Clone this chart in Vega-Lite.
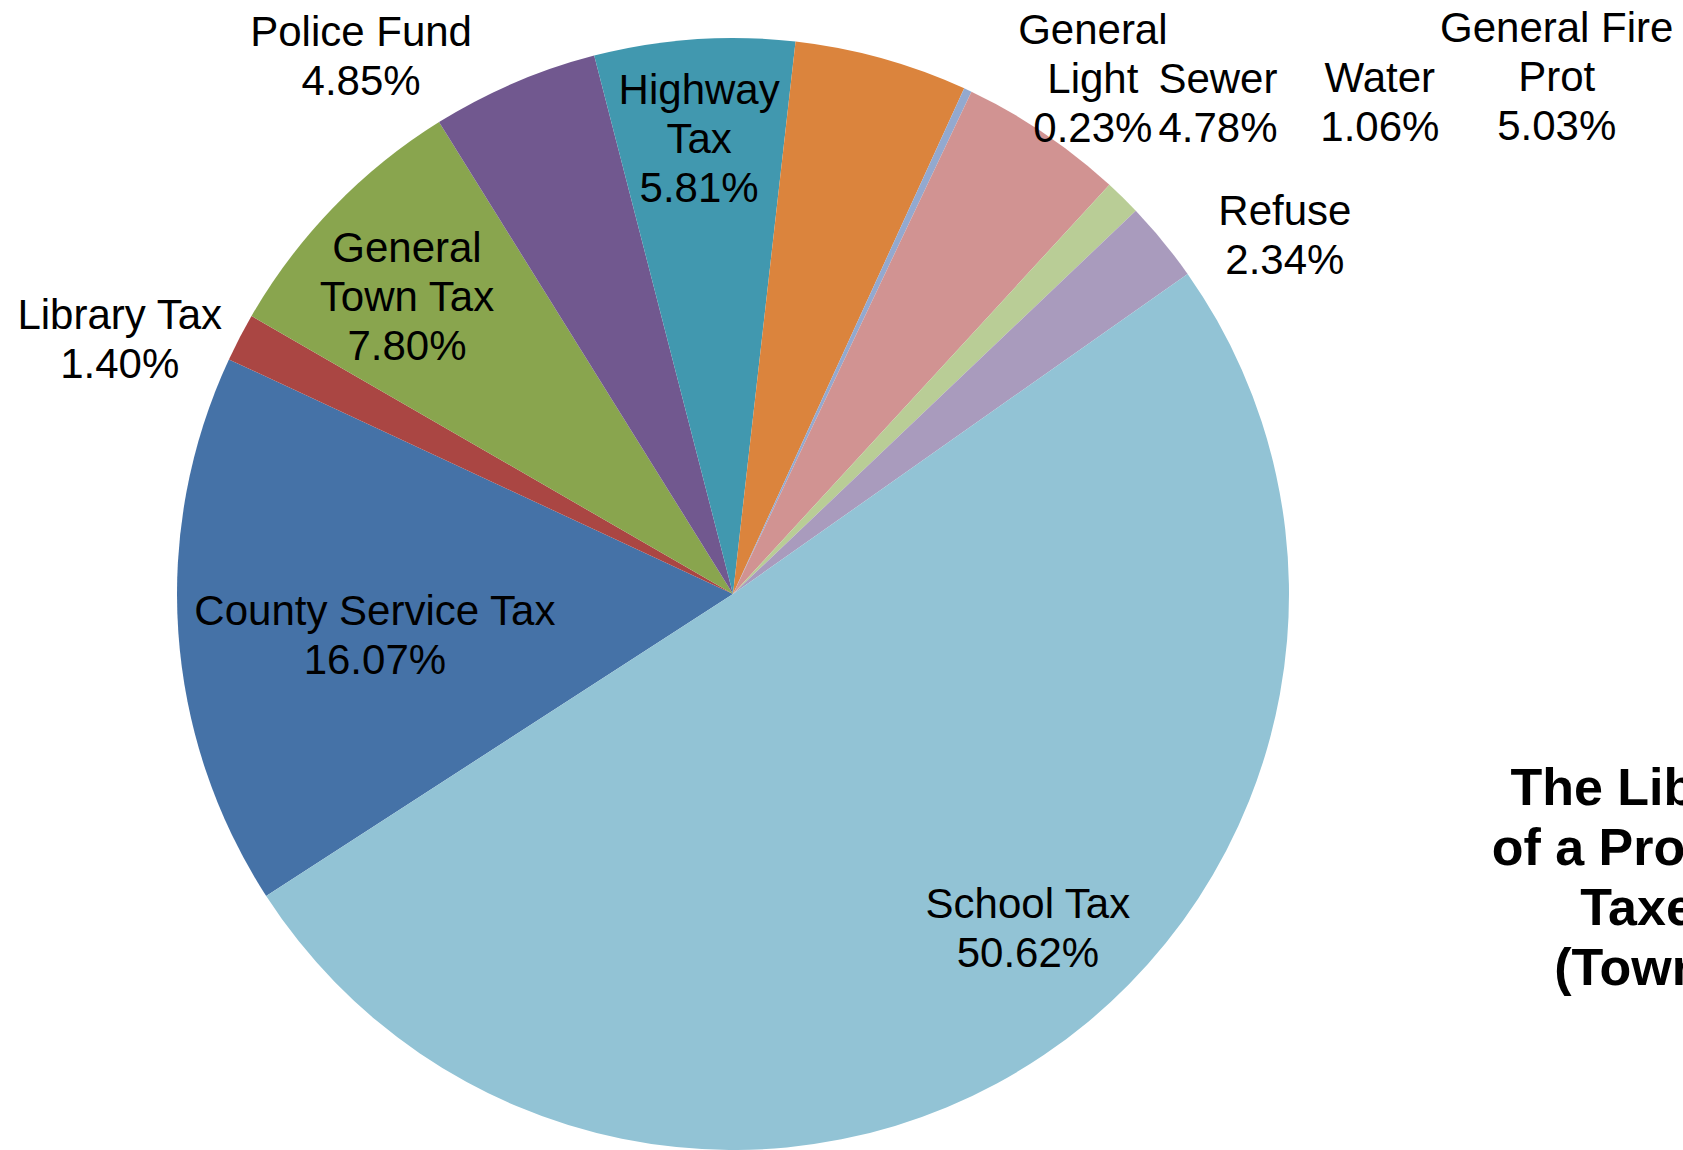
{
  "$schema": "https://vega.github.io/schema/vega-lite/v6.json",
  "autosize": {"type": "none"},
  "width": 1112,
  "height": 1112,
  "padding": {"left": 177, "top": 38, "right": 394, "bottom": 0},
  "background": "#ffffff",
  "title": {
    "text": ["The Library", "of a Property\u00a0", "Taxes", "(Towns)"],
    "orient": "bottom",
    "anchor": "end",
    "frame": "group",
    "align": "center",
    "baseline": "top",
    "offset": 0,
    "dx": 363,
    "dy": -386,
    "font": "Liberation Sans",
    "fontSize": 52,
    "fontWeight": "bold",
    "lineHeight": 60,
    "color": "#000000"
  },
  "data": {
    "values": [
      {"idx": 1, "cat": "County Service Tax", "value": 16.07, "label": "County Service Tax\n16.07%"},
      {"idx": 2, "cat": "Library Tax", "value": 1.40, "label": "Library Tax\n1.40%"},
      {"idx": 3, "cat": "General Town Tax", "value": 7.80, "label": "General\nTown Tax\n7.80%"},
      {"idx": 4, "cat": "Police Fund", "value": 4.85, "label": "Police Fund\n4.85%"},
      {"idx": 5, "cat": "Highway Tax", "value": 5.81, "label": "Highway\nTax\n5.81%"},
      {"idx": 6, "cat": "General Fire Prot", "value": 5.03, "label": "General Fire\nProt\n5.03%"},
      {"idx": 7, "cat": "General Light", "value": 0.23, "label": "General\nLight\n0.23%"},
      {"idx": 8, "cat": "Sewer", "value": 4.78, "label": "Sewer\n4.78%"},
      {"idx": 9, "cat": "Water", "value": 1.06, "label": "Water\n1.06%"},
      {"idx": 10, "cat": "Refuse", "value": 2.34, "label": "Refuse\n2.34%"},
      {"idx": 11, "cat": "School Tax", "value": 50.62, "label": "School Tax\n50.62%"}
    ]
  },
  "encoding": {
    "theta": {"field": "value", "type": "quantitative", "stack": true, "scale": {"range": [4.13818, 10.42136], "nice": false}},
    "order": {"field": "idx", "type": "quantitative"},
    "detail": {"field": "cat", "type": "nominal"}
  },
  "layer": [
    {
      "mark": {"type": "arc"},
      "encoding": {
        "color": {
          "field": "cat", "type": "nominal", "legend": null,
          "scale": {
            "domain": ["County Service Tax", "Library Tax", "General Town Tax", "Police Fund", "Highway Tax", "General Fire Prot", "General Light", "Sewer", "Water", "Refuse", "School Tax"],
            "range": ["#4572A7", "#AA4643", "#89A54E", "#71588F", "#4198AF", "#DB843D", "#93A9CF", "#D19392", "#B9CD96", "#A99BBD", "#92C3D5"]
          }
        }
      }
    },
    {"mark": {"type": "text", "radius": 363, "dx": 4, "dy": -7},
     "encoding": {"text": {"condition": {"test": "datum['cat'] === 'County Service Tax'", "field": "label", "type": "nominal"}, "value": ""}}},
    {"mark": {"type": "text", "radius": 556, "dx": -120, "dy": -21},
     "encoding": {"text": {"condition": {"test": "datum['cat'] === 'Library Tax'", "field": "label", "type": "nominal"}, "value": ""}}},
    {"mark": {"type": "text", "radius": 441, "dx": -9, "dy": -38},
     "encoding": {"text": {"condition": {"test": "datum['cat'] === 'General Town Tax'", "field": "label", "type": "nominal"}, "value": ""}}},
    {"mark": {"type": "text", "radius": 556, "dx": -153, "dy": -50},
     "encoding": {"text": {"condition": {"test": "datum['cat'] === 'Police Fund'", "field": "label", "type": "nominal"}, "value": ""}}},
    {"mark": {"type": "text", "radius": 457, "dx": -2, "dy": -47},
     "encoding": {"text": {"condition": {"test": "datum['cat'] === 'Highway Tax'", "field": "label", "type": "nominal"}, "value": ""}}},
    {"mark": {"type": "text", "radius": 556, "dx": 675, "dy": -29},
     "encoding": {"text": {"condition": {"test": "datum['cat'] === 'General Fire Prot'", "field": "label", "type": "nominal"}, "value": ""}}},
    {"mark": {"type": "text", "radius": 556, "dx": 125, "dy": -59},
     "encoding": {"text": {"condition": {"test": "datum['cat'] === 'General Light'", "field": "label", "type": "nominal"}, "value": ""}}},
    {"mark": {"type": "text", "radius": 556, "dx": 174, "dy": -53},
     "encoding": {"text": {"condition": {"test": "datum['cat'] === 'Sewer'", "field": "label", "type": "nominal"}, "value": ""}}},
    {"mark": {"type": "text", "radius": 556, "dx": 257, "dy": -119},
     "encoding": {"text": {"condition": {"test": "datum['cat'] === 'Water'", "field": "label", "type": "nominal"}, "value": ""}}},
    {"mark": {"type": "text", "radius": 556, "dx": 122, "dy": -29},
     "encoding": {"text": {"condition": {"test": "datum['cat'] === 'Refuse'", "field": "label", "type": "nominal"}, "value": ""}}},
    {"mark": {"type": "text", "radius": 443, "dx": 47, "dy": -56},
     "encoding": {"text": {"condition": {"test": "datum['cat'] === 'School Tax'", "field": "label", "type": "nominal"}, "value": ""}}}
  ],
  "config": {
    "view": {"stroke": null},
    "text": {
      "font": "Liberation Sans",
      "fontSize": 42,
      "lineHeight": 49,
      "lineBreak": "\n",
      "align": "center",
      "baseline": "middle",
      "fill": "#000000"
    }
  }
}
